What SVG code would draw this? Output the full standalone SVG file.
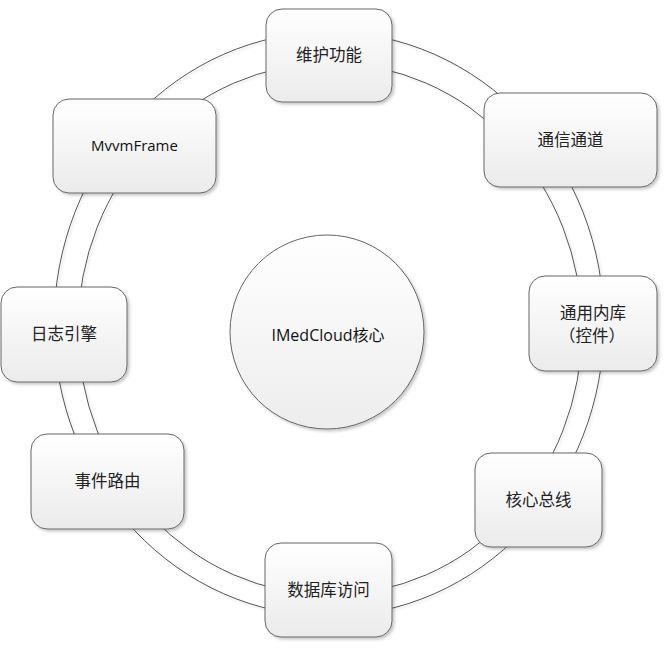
<svg xmlns="http://www.w3.org/2000/svg" width="670" height="652" viewBox="0 0 670 652">
  <defs>
    <linearGradient id="boxGrad" x1="0" y1="0" x2="0" y2="1">
      <stop offset="0" stop-color="#ffffff"/>
      <stop offset="1" stop-color="#ebebeb"/>
    </linearGradient>
    <linearGradient id="circGrad" x1="0" y1="0" x2="0" y2="1">
      <stop offset="0" stop-color="#ffffff"/>
      <stop offset="1" stop-color="#ededed"/>
    </linearGradient>
    <filter id="shadow" x="-10%" y="-10%" width="125%" height="125%">
      <feDropShadow dx="2" dy="2" stdDeviation="1.5" flood-color="#000000" flood-opacity="0.22"/>
    </filter>
    <filter id="lineShadow" x="-5%" y="-5%" width="110%" height="110%">
      <feDropShadow dx="1.5" dy="1.5" stdDeviation="1" flood-color="#000000" flood-opacity="0.15"/>
    </filter>
  </defs>
  <style>
    .box { fill: url(#boxGrad); stroke: #666666; stroke-width: 1; filter: url(#shadow); }
    .ring { fill: none; stroke: #555555; stroke-width: 1; filter: url(#lineShadow); }
    .cjk { font-family: "Noto Sans CJK SC", "Noto Sans", sans-serif; font-size: 16.5px; fill: #222222; text-anchor: middle; }
    .lat { font-family: "Open Sans", "Noto Sans CJK SC", sans-serif; font-size: 15px; fill: #111111; text-anchor: middle; }
  </style>
  <rect width="670" height="652" fill="#ffffff"/>

  <g id="connectors">
    <ellipse class="ring" cx="329" cy="324" rx="275" ry="292"/>
    <ellipse class="ring" cx="330" cy="329" rx="252" ry="266"/>
  </g>

  <g id="core">
    <circle cx="327" cy="332" r="97" fill="url(#circGrad)" stroke="#666666" stroke-width="1" filter="url(#shadow)"/>
    <text class="lat" x="328" y="341" style="font-size:16px">IMedCloud<tspan style="font-family:'Noto Sans CJK SC',sans-serif">核心</tspan></text>
  </g>

  <g id="node-weihu">
    <rect class="box" x="266" y="9" width="126" height="93" rx="16"/>
    <text class="cjk" x="329" y="61">维护功能</text>
  </g>

  <g id="node-mvvm">
    <rect class="box" x="53" y="99" width="163" height="94" rx="16"/>
    <text class="lat" x="134.5" y="151">MvvmFrame</text>
  </g>

  <g id="node-tongxin">
    <rect class="box" x="484" y="93" width="173" height="94" rx="16"/>
    <text class="cjk" x="570.5" y="146">通信通道</text>
  </g>

  <g id="node-tongyong">
    <rect class="box" x="529" y="276" width="128" height="95" rx="16"/>
    <text class="cjk" x="593" y="319">通用内库</text>
    <text class="cjk" x="592" y="342">（控件）</text>
  </g>

  <g id="node-rizhi">
    <rect class="box" x="1" y="287" width="126" height="95" rx="16"/>
    <text class="cjk" x="64" y="340">日志引擎</text>
  </g>

  <g id="node-shijian">
    <rect class="box" x="31" y="434" width="153" height="95" rx="16"/>
    <text class="cjk" x="107.5" y="487">事件路由</text>
  </g>

  <g id="node-shujuku">
    <rect class="box" x="265" y="543" width="127" height="94" rx="16"/>
    <text class="cjk" x="328.5" y="596">数据库访问</text>
  </g>

  <g id="node-hexin">
    <rect class="box" x="475" y="453" width="127" height="94" rx="16"/>
    <text class="cjk" x="538.5" y="506">核心总线</text>
  </g>
</svg>
